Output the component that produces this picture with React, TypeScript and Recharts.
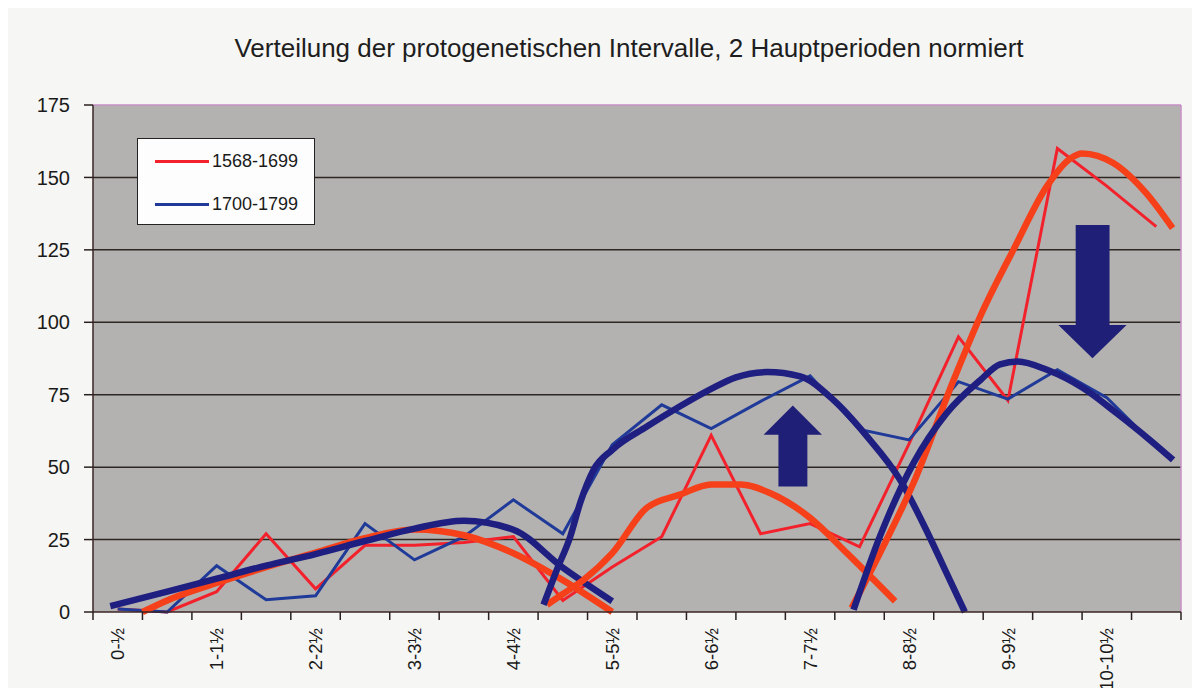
import React from 'react';
import { LineChart, Line, XAxis, YAxis, CartesianGrid, ReferenceArea, ReferenceLine, Legend } from 'recharts';

const title = 'Verteilung der protogenetischen Intervalle, 2 Hauptperioden normiert';

const categories = [
  '0-½', '½-1', '1-1½', '1½-2', '2-2½', '2½-3', '3-3½', '3½-4', '4-4½', '4½-5', '5-5½',
  '5½-6', '6-6½', '6½-7', '7-7½', '7½-8', '8-8½', '8½-9', '9-9½', '9½-10', '10-10½', '10½-11',
];

const yTicks = [0, 25, 50, 75, 100, 125, 150, 175];
const gridValues = [25, 50, 75, 100, 125, 150];

const seriesNames = ['1568-1699', '1700-1799'];
const series1568 = [1, 0, 7, 27, 8, 23, 23, 24, 26, 4, 15.5, 26, 61, 27, 30.5, 22.5, 58, 95, 73, 160, 147, 133];
const series1700 = [1, 0, 16, 4.2, 5.6, 30.5, 18, 26, 38.7, 27, 57.7, 71.5, 63.3, 72.7, 81.5, 63, 59.4, 79.5, 73.5, 83.6, 74, 57];

// trend curves (x in category units, y value)
const trendRedA = [[0.5, 0], [1, 4], [2, 10], [3, 15.5], [4, 20.5], [5, 25.5], [6, 28.5], [7, 26.5], [8, 20.3], [9, 11], [10, 0]];
const trendRedB = [[8.68, 2.5], [9, 6.2], [9.42, 11.1], [10, 20.3], [10.7, 36], [11.37, 40.5], [12, 44], [12.6, 44], [13.2, 41], [14, 32.5], [14.74, 20.4], [15.72, 3.7]];
const trendRedC = [[14.84, 1.4], [15.41, 20.3], [16.09, 44.5], [16.9, 80], [17.44, 102], [18.11, 125], [18.79, 147], [19.26, 156.5], [19.5, 158.3], [20.13, 155], [20.8, 144.5], [21.33, 132.5]];
const trendBlueA = [[-0.15, 2], [1, 7], [2, 11.5], [3, 16], [4, 20], [5, 24.5], [6, 28.8], [7, 31.5], [8, 28.4], [9, 15.3], [10, 3.7]];
const trendBlueB = [[8.61, 2.5], [8.88, 14.6], [9.15, 26], [9.35, 37.6], [9.62, 49], [10, 56], [10.7, 64], [11.37, 71], [12, 77], [12.5, 81], [13.13, 82.8], [13.8, 81.3], [14.47, 73.2], [15.15, 60.6], [15.82, 45.6], [16.4, 26.5], [16.76, 13.4], [17.13, 0]];
const trendBlueC = [[14.88, 0.8], [15.41, 26], [16.09, 51.4], [16.76, 68.6], [17.44, 80], [17.84, 85.5], [18.2, 86.5], [18.79, 83.6], [19.52, 77.3], [20.2, 68.6], [20.87, 59.4], [21.34, 52.5]];

// arrows: [x1, x2, yBottom, yTop]
const arrowUp = [13.06, 14.24, 43.3, 71.3];
const arrowDown = [19.02, 20.4, 87.6, 133.6];

const RED = '#f2212b';
const RED_TREND = '#f5401a';
const BLUE = '#1f3a98';
const BLUE_TREND = '#1e1f80';
const ARROW = '#1f1f78';

const toRows = (vals: number[]) => vals.map((v, i) => ({ x: i, v }));
const toTrend = (pts: number[][]) => pts.map(([x, v]) => ({ x, v }));

const tickEdges = categories.map((_, i) => i - 0.5).concat([categories.length - 0.5]);
const labelPositions = categories.map((_, i) => i).filter((i) => i % 2 === 0);
const allTicks = [...tickEdges, ...labelPositions].sort((a, b) => a - b);

const FONT = '"Liberation Sans", Arial, sans-serif';

const AxisTick = (props: any) => {
  const { x, y, payload } = props;
  const v = payload.value;
  if (!Number.isInteger(v)) {
    return <line x1={x} y1={y} x2={x} y2={y + 8} stroke="#2a2020" strokeWidth={1.5} />;
  }
  const ty = y + 16;
  return (
    <text x={x} y={ty} transform={`rotate(-90, ${x}, ${ty})`} textAnchor="end" dy="0.36em" fontSize={18.5} fill="#1a1a1a" fontFamily={FONT}>
      {categories[v]}
    </text>
  );
};

const makeArrow = (dir: 'up' | 'down', headFrac: number) => (props: any) => {
  const { x, y, width, height } = props;
  const sl = x + width * 0.254;
  const sr = x + width * 0.75;
  const cx = x + width / 2;
  let pts: number[][];
  if (dir === 'up') {
    const hb = y + height * headFrac;
    pts = [[cx, y], [x + width, hb], [sr, hb], [sr, y + height], [sl, y + height], [sl, hb], [x, hb]];
  } else {
    const hb = y + height * (1 - headFrac);
    pts = [[sl, y], [sr, y], [sr, hb], [x + width, hb], [cx, y + height], [x, hb], [sl, hb]];
  }
  return <polygon points={pts.map((p) => p.join(',')).join(' ')} fill={ARROW} />;
};

const LegendBox = (props: any) => {
  const items = (props.payload || []).filter((p: any) => p.type !== 'none');
  return (
    <div style={{ width: 178, height: 87, background: '#fdfdfd', border: '1.5px solid #222', boxSizing: 'border-box', position: 'relative', fontFamily: FONT, fontSize: 18, color: '#1a1a1a' }}>
      {items.map((p: any, i: number) => (
        <div key={p.value} style={{ position: 'absolute', left: 17, top: 10 + i * 43, height: 24, display: 'flex', alignItems: 'center' }}>
          <div style={{ width: 54, height: 3, background: p.color }} />
          <span style={{ marginLeft: 3, lineHeight: '24px' }}>{p.value}</span>
        </div>
      ))}
    </div>
  );
};

export default function App() {
  return (
    <div style={{ position: 'relative', width: 1200, height: 696, margin: -8, background: '#f6f6f4', overflow: 'hidden', fontFamily: FONT }}>
      <div style={{ position: 'absolute', left: 5, top: 0, width: 2, height: 696, background: '#877b6c' }} />
      <div style={{ position: 'absolute', left: 0, width: 1258, top: 33, textAlign: 'center', fontSize: 26, color: '#1e1e1e', whiteSpace: 'nowrap' }}>
        {title}
      </div>
      <LineChart width={1200} height={696} margin={{ top: 105, right: 19, left: 0, bottom: 0 }}>
        <CartesianGrid vertical={false} horizontalValues={gridValues} stroke="#2d2622" strokeWidth={1.5} fill="#b4b2b0" fillOpacity={1} xAxisId="main" />
        <XAxis xAxisId="main" type="number" dataKey="x" domain={[-0.5, 21.5]} ticks={allTicks} interval={0} tick={<AxisTick />} tickLine={false} tickSize={0} tickMargin={0} height={84} axisLine={{ stroke: '#3a2626', strokeWidth: 1.5 }} allowDataOverflow />
        <YAxis type="number" domain={[0, 175]} ticks={yTicks} interval={0} width={93} tickSize={9} tickMargin={14} axisLine={{ stroke: '#3a2626', strokeWidth: 1.5 }} tickLine={{ stroke: '#2a2020', strokeWidth: 1.5 }} tick={{ fontSize: 20, fill: '#1a1a1a', fontFamily: FONT }} />
        <ReferenceLine xAxisId="main" y={175} stroke="#c98fc6" strokeWidth={1.5} />
        <ReferenceLine xAxisId="main" x={21.5} stroke="#c98fc6" strokeWidth={1.5} />
        <Legend verticalAlign="middle" align="center" layout="horizontal" content={<LegendBox />} wrapperStyle={{ left: 137, top: 138, width: 178, height: 87 }} />

        <Line xAxisId="main" data={toRows(series1568)} dataKey="v" name={seriesNames[0]} stroke={RED} strokeWidth={3} dot={false} type="linear" isAnimationActive={false} />
        <Line xAxisId="main" data={toRows(series1700)} dataKey="v" name={seriesNames[1]} stroke={BLUE} strokeWidth={3} dot={false} type="linear" isAnimationActive={false} />

        <Line xAxisId="main" data={toTrend(trendRedA)} dataKey="v" name="trendRedA" legendType="none" stroke={RED_TREND} strokeWidth={6.5} dot={false} type="monotone" isAnimationActive={false} />
        <Line xAxisId="main" data={toTrend(trendBlueA)} dataKey="v" name="trendBlueA" legendType="none" stroke={BLUE_TREND} strokeWidth={6.5} dot={false} type="monotone" isAnimationActive={false} />
        <Line xAxisId="main" data={toTrend(trendRedB)} dataKey="v" name="trendRedB" legendType="none" stroke={RED_TREND} strokeWidth={6.5} dot={false} type="monotone" isAnimationActive={false} />
        <Line xAxisId="main" data={toTrend(trendBlueB)} dataKey="v" name="trendBlueB" legendType="none" stroke={BLUE_TREND} strokeWidth={6.5} dot={false} type="monotone" isAnimationActive={false} />
        <Line xAxisId="main" data={toTrend(trendRedC)} dataKey="v" name="trendRedC" legendType="none" stroke={RED_TREND} strokeWidth={6.5} dot={false} type="monotone" isAnimationActive={false} />
        <Line xAxisId="main" data={toTrend(trendBlueC)} dataKey="v" name="trendBlueC" legendType="none" stroke={BLUE_TREND} strokeWidth={6.5} dot={false} type="monotone" isAnimationActive={false} />

        <ReferenceArea xAxisId="main" x1={arrowUp[0]} x2={arrowUp[1]} y1={arrowUp[2]} y2={arrowUp[3]} shape={makeArrow('up', 0.36)} />
        <ReferenceArea xAxisId="main" x1={arrowDown[0]} x2={arrowDown[1]} y1={arrowDown[2]} y2={arrowDown[3]} shape={makeArrow('down', 0.25)} />
      </LineChart>
    </div>
  );
}
